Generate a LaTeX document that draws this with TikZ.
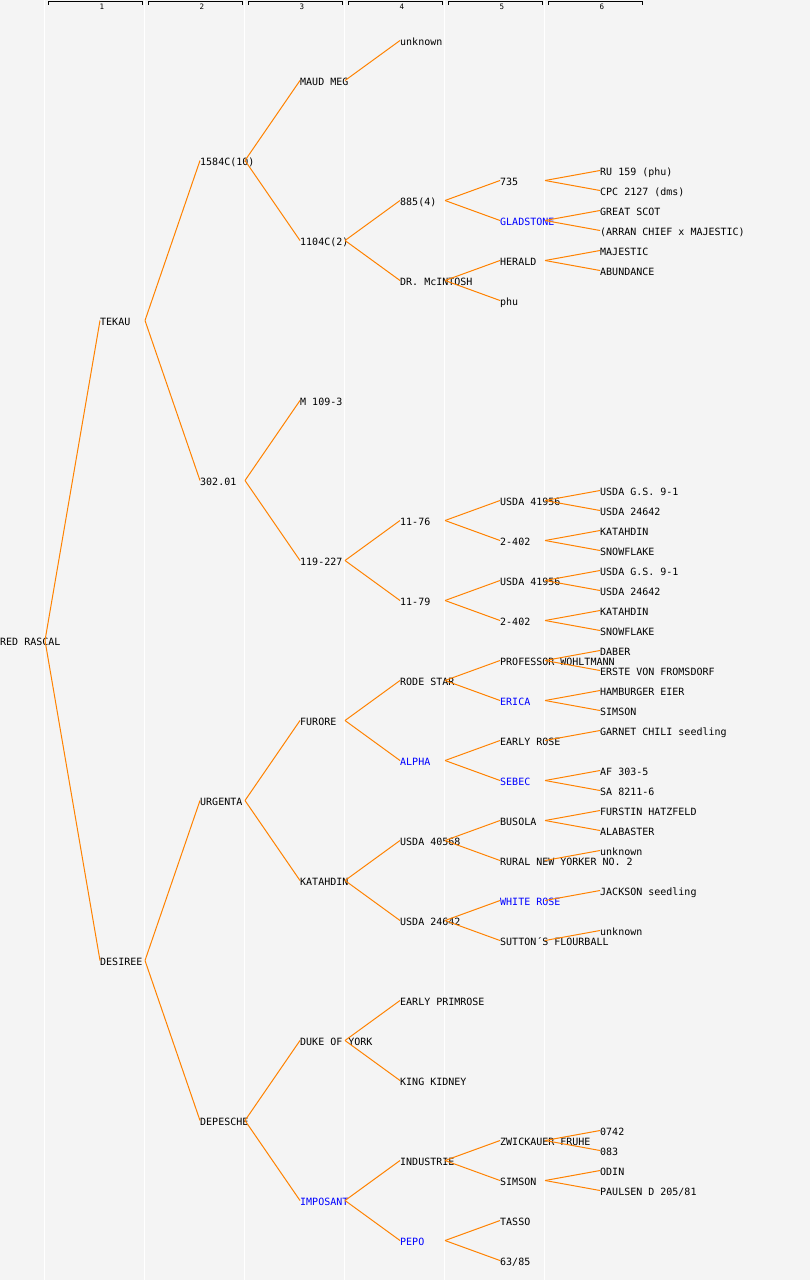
\documentclass[tikz,border=0pt]{standalone}
\usepackage{fontspec}
\setmonofont{DejaVu Sans Mono}
\definecolor{bgcol}{HTML}{F4F4F4}
\definecolor{edgecol}{RGB}{255,130,0}
\definecolor{namecol}{RGB}{0,0,255}
\tikzset{
  lbl/.style={anchor=west, inner sep=0pt, text height=10.3pt, text depth=0pt,
    font=\ttfamily\fontsize{10}{12}\selectfont},
  hilite/.style={lbl, text=namecol},
  edge/.style={draw=edgecol, line width=1pt},
  colrule/.style={draw=white, line width=1.2pt},
  colhead/.style={draw=black, line width=0.9pt},
  colnum/.style={inner sep=0pt, font=\ttfamily\fontsize{7.5}{8}\selectfont},
}
\begin{document}
\begin{tikzpicture}[x=1pt, y=-1pt]

  \useasboundingbox (0,0) rectangle (810,1280);
  \fill[bgcol] (0,0) rectangle (810,1280);

  % column rules and headers
  \foreach \k in {0,...,5}{
    \draw[colrule] ({44.5+100*\k},0) -- ++(0,1280);
  }
  \foreach \k in {1,...,6}{
    \draw[colhead] ({48+100*(\k-1)},4.5) -- ++(0,-3) -- ++(94,0) -- ++(0,3);
    \node[colnum] (head\k) at ({102+100*(\k-1)},6.5) {\k};
  }

  % generation 0 to 3
  \node[lbl] (rr) at (0,640.5) {RED RASCAL};
  \node[lbl] (tekau) at (100,320.5) {TEKAU};
  \node[lbl] (desiree) at (100,960.5) {DESIREE};
  \node[lbl] (c1584) at (200,160.5) {1584C(10)};
  \node[lbl] (s30201) at (200,480.5) {302.01};
  \node[lbl] (urgenta) at (200,800.5) {URGENTA};
  \node[lbl] (depesche) at (200,1120.5) {DEPESCHE};
  \node[lbl] (maudmeg) at (300,80.5) {MAUD MEG};
  \node[lbl] (c1104) at (300,240.5) {1104C(2)};
  \node[lbl] (m109) at (300,400.5) {M 109-3};
  \node[lbl] (s119) at (300,560.5) {119-227};
  \node[lbl] (furore) at (300,720.5) {FURORE};
  \node[lbl] (katahdin) at (300,880.5) {KATAHDIN};
  \node[lbl] (dukeyork) at (300,1040.5) {DUKE OF YORK};
  \node[hilite] (imposant) at (300,1200.5) {IMPOSANT};

  % generation 4
  \node[lbl] (unk1) at (400,40.5) {unknown};
  \node[lbl] (s885) at (400,200.5) {885(4)};
  \node[lbl] (mcintosh) at (400,280.5) {DR. McINTOSH};
  \node[lbl] (s1176) at (400,520.5) {11-76};
  \node[lbl] (s1179) at (400,600.5) {11-79};
  \node[lbl] (rodestar) at (400,680.5) {RODE STAR};
  \node[hilite] (alpha) at (400,760.5) {ALPHA};
  \node[lbl] (usda40568) at (400,840.5) {USDA 40568};
  \node[lbl] (usda24642) at (400,920.5) {USDA 24642};
  \node[lbl] (earlyprim) at (400,1000.5) {EARLY PRIMROSE};
  \node[lbl] (kingkid) at (400,1080.5) {KING KIDNEY};
  \node[lbl] (industrie) at (400,1160.5) {INDUSTRIE};
  \node[hilite] (pepo) at (400,1240.5) {PEPO};

  % generation 5
  \node[lbl] (s735) at (500,180.5) {735};
  \node[hilite] (gladstone) at (500,220.5) {GLADSTONE};
  \node[lbl] (herald) at (500,260.5) {HERALD};
  \node[lbl] (phu) at (500,300.5) {phu};
  \node[lbl] (usdaA) at (500,500.5) {USDA 41956};
  \node[lbl] (s2402a) at (500,540.5) {2-402};
  \node[lbl] (usdaB) at (500,580.5) {USDA 41956};
  \node[lbl] (s2402b) at (500,620.5) {2-402};
  \node[lbl] (wohltmann) at (500,660.5) {PROFESSOR WOHLTMANN};
  \node[hilite] (erica) at (500,700.5) {ERICA};
  \node[lbl] (earlyrose) at (500,740.5) {EARLY ROSE};
  \node[hilite] (sebec) at (500,780.5) {SEBEC};
  \node[lbl] (busola) at (500,820.5) {BUSOLA};
  \node[lbl] (rural) at (500,860.5) {RURAL NEW YORKER NO. 2};
  \node[hilite] (whiterose) at (500,900.5) {WHITE ROSE};
  \node[lbl] (sutton) at (500,940.5) {SUTTON´S FLOURBALL};
  \node[lbl] (zwickauer) at (500,1140.5) {ZWICKAUER FRUHE};
  \node[lbl] (simson) at (500,1180.5) {SIMSON};
  \node[lbl] (tasso) at (500,1220.5) {TASSO};
  \node[lbl] (s6385) at (500,1260.5) {63/85};

  % generation 6
  \node[lbl] (ru159) at (600,170.5) {RU 159 (phu)};
  \node[lbl] (cpc2127) at (600,190.5) {CPC 2127 (dms)};
  \node[lbl] (greatscot) at (600,210.5) {GREAT SCOT};
  \node[lbl] (arran) at (600,230.5) {(ARRAN CHIEF x MAJESTIC)};
  \node[lbl] (majestic) at (600,250.5) {MAJESTIC};
  \node[lbl] (abundance) at (600,270.5) {ABUNDANCE};
  \node[lbl] (gs91a) at (600,490.5) {USDA G.S. 9-1};
  \node[lbl] (u24642a) at (600,510.5) {USDA 24642};
  \node[lbl] (katahdina) at (600,530.5) {KATAHDIN};
  \node[lbl] (snowa) at (600,550.5) {SNOWFLAKE};
  \node[lbl] (gs91b) at (600,570.5) {USDA G.S. 9-1};
  \node[lbl] (u24642b) at (600,590.5) {USDA 24642};
  \node[lbl] (katahdinb) at (600,610.5) {KATAHDIN};
  \node[lbl] (snowb) at (600,630.5) {SNOWFLAKE};
  \node[lbl] (daber) at (600,650.5) {DABER};
  \node[lbl] (erste) at (600,670.5) {ERSTE VON FROMSDORF};
  \node[lbl] (hamburger) at (600,690.5) {HAMBURGER EIER};
  \node[lbl] (simsonb) at (600,710.5) {SIMSON};
  \node[lbl] (garnet) at (600,730.5) {GARNET CHILI seedling};
  \node[lbl] (af303) at (600,770.5) {AF 303-5};
  \node[lbl] (sa8211) at (600,790.5) {SA 8211-6};
  \node[lbl] (furstin) at (600,810.5) {FURSTIN HATZFELD};
  \node[lbl] (alabaster) at (600,830.5) {ALABASTER};
  \node[lbl] (unk2) at (600,850.5) {unknown};
  \node[lbl] (jackson) at (600,890.5) {JACKSON seedling};
  \node[lbl] (unk3) at (600,930.5) {unknown};
  \node[lbl] (c0742) at (600,1130.5) {0742};
  \node[lbl] (c083) at (600,1150.5) {083};
  \node[lbl] (odin) at (600,1170.5) {ODIN};
  \node[lbl] (paulsen) at (600,1190.5) {PAULSEN D 205/81};

  % parent links
  \begin{scope}[on background layer/.try]
  \foreach \p/\c in {rr/tekau, rr/desiree,
      tekau/c1584, tekau/s30201, desiree/urgenta, desiree/depesche,
      c1584/maudmeg, c1584/c1104, s30201/m109, s30201/s119,
      urgenta/furore, urgenta/katahdin, depesche/dukeyork, depesche/imposant,
      maudmeg/unk1, c1104/s885, c1104/mcintosh, s119/s1176, s119/s1179,
      furore/rodestar, furore/alpha, katahdin/usda40568, katahdin/usda24642,
      dukeyork/earlyprim, dukeyork/kingkid, imposant/industrie, imposant/pepo,
      s885/s735, s885/gladstone, mcintosh/herald, mcintosh/phu,
      s1176/usdaA, s1176/s2402a, s1179/usdaB, s1179/s2402b,
      rodestar/wohltmann, rodestar/erica, alpha/earlyrose, alpha/sebec,
      usda40568/busola, usda40568/rural, usda24642/whiterose, usda24642/sutton,
      industrie/zwickauer, industrie/simson, pepo/tasso, pepo/s6385,
      s735/ru159, s735/cpc2127, gladstone/greatscot, gladstone/arran,
      herald/majestic, herald/abundance,
      usdaA/gs91a, usdaA/u24642a, s2402a/katahdina, s2402a/snowa,
      usdaB/gs91b, usdaB/u24642b, s2402b/katahdinb, s2402b/snowb,
      wohltmann/daber, wohltmann/erste, erica/hamburger, erica/simsonb,
      earlyrose/garnet, sebec/af303, sebec/sa8211,
      busola/furstin, busola/alabaster, rural/unk2, whiterose/jackson, sutton/unk3,
      zwickauer/c0742, zwickauer/c083, simson/odin, simson/paulsen}{
    \draw[edge] ([xshift=45pt]\p.west) -- (\c.west);
  }
  \end{scope}

\end{tikzpicture}
\end{document}
